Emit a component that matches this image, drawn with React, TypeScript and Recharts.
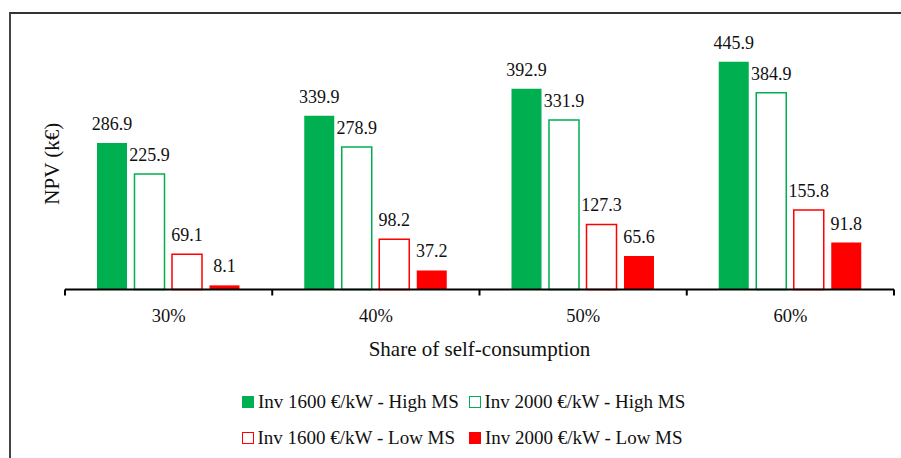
import React from 'react';
import { BarChart, Bar, XAxis, YAxis, LabelList, Legend } from 'recharts';

const categories = ['30%', '40%', '50%', '60%'];
const inv1600High = [286.9, 339.9, 392.9, 445.9];
const inv2000High = [225.9, 278.9, 331.9, 384.9];
const inv1600Low = [69.1, 98.2, 127.3, 155.8];
const inv2000Low = [8.1, 37.2, 65.6, 91.8];
const seriesNames = [
  'Inv 1600 €/kW - High MS',
  'Inv 2000 €/kW - High MS',
  'Inv 1600 €/kW - Low MS',
  'Inv 2000 €/kW - Low MS',
];

const data = categories.map((c, i) => ({
  cat: c,
  s1: inv1600High[i],
  s2: inv2000High[i],
  s3: inv1600Low[i],
  s4: inv2000Low[i],
}));

const GREEN = '#00B050';
const RED = '#FF0000';
const FONT = '"Liberation Serif", "Times New Roman", serif';

const series = [
  { key: 's1', fill: GREEN, stroke: 'none', name: seriesNames[0] },
  { key: 's2', fill: '#ffffff', stroke: GREEN, name: seriesNames[1] },
  { key: 's3', fill: '#ffffff', stroke: RED, name: seriesNames[2] },
  { key: 's4', fill: RED, stroke: 'none', name: seriesNames[3] },
];

const W = 901;
const H = 458;
const MARGIN = { top: 34, right: 7, bottom: 138.5, left: 38 };
const YAXIS_W = 27;
const PLOT_W = W - MARGIN.left - YAXIS_W - MARGIN.right;
const BAND = PLOT_W / categories.length;

const CustomTick = (props: any) => {
  const { x, y, payload, index } = props;
  const axisY = y - 8;
  const half = BAND / 2;
  return (
    <g>
      <line x1={x - half} x2={x - half} y1={axisY} y2={axisY + 6} stroke="#000" strokeWidth={2} />
      {index === categories.length - 1 && (
        <line x1={x + half} x2={x + half} y1={axisY} y2={axisY + 6} stroke="#000" strokeWidth={2} />
      )}
      <text x={x} y={axisY + 32} textAnchor="middle" fontFamily={FONT} fontSize={18.5} fill="#111">
        {payload.value}
      </text>
    </g>
  );
};

const LegendContent = () => {
  const cols = [242, 469];
  const rows = [402, 438];
  return (
    <div style={{ position: 'relative', width: W, height: H }}>
      {series.map((s, i) => {
        const left = cols[i % 2];
        const top = rows[Math.floor(i / 2)];
        return (
          <div
            key={s.key}
            style={{
              position: 'absolute',
              left,
              top: top - 12,
              height: 24,
              display: 'flex',
              alignItems: 'center',
              whiteSpace: 'nowrap',
              fontFamily: FONT,
              fontSize: 19,
              color: '#111',
            }}
          >
            <span
              style={{
                display: 'inline-block',
                width: s.stroke === 'none' ? 12 : 9.5,
                height: s.stroke === 'none' ? 12 : 9.5,
                background: s.fill,
                border: s.stroke === 'none' ? 'none' : `1.5px solid ${s.stroke}`,
                marginRight: 4,
              }}
            />
            <span>{s.name}</span>
          </div>
        );
      })}
    </div>
  );
};

export default function App() {
  return (
    <div
      style={{
        position: 'fixed',
        left: 0,
        top: 0,
        width: W,
        height: H,
        overflow: 'hidden',
        background: '#fff',
      }}
    >
      <div
        style={{
          position: 'absolute',
          left: 9,
          top: 12,
          width: W,
          height: H,
          borderLeft: '2px solid #444',
          borderTop: '2px solid #333',
        }}
      />
      <div style={{ position: 'absolute', left: 0, top: 0 }}>
        <BarChart
          width={W}
          height={H}
          data={data}
          margin={MARGIN}
          barCategoryGap={32}
          barGap={7.5}
        >
          <YAxis
            domain={[0, 500]}
            width={YAXIS_W}
            tick={false}
            tickLine={false}
            axisLine={false}
            label={{
              value: 'NPV (k€)',
              angle: -90,
              position: 'center',
              fontFamily: FONT,
              fontSize: 21,
              fill: '#111',
              dy: 2,
            }}
          />
          <XAxis
            dataKey="cat"
            height={30}
            interval={0}
            axisLine={{ stroke: '#000', strokeWidth: 2 }}
            tickLine={false}
            tick={<CustomTick />}
            label={{
              value: 'Share of self-consumption',
              position: 'insideBottom',
              offset: -36,
              fontFamily: FONT,
              fontSize: 21,
              fill: '#111',
            }}
          />
          <Legend
            layout="horizontal"
            verticalAlign="middle"
            align="center"
            wrapperStyle={{ left: 0, top: 0, width: W, height: H, pointerEvents: 'none' }}
            content={<LegendContent />}
          />
          {series.map((s) => (
            <Bar
              key={s.key}
              dataKey={s.key}
              name={s.name}
              fill={s.fill}
              stroke={s.stroke}
              strokeWidth={s.stroke === 'none' ? 0 : 1.5}
              isAnimationActive={false}
            >
              <LabelList
                dataKey={s.key}
                position="top"
                offset={13}
                fontFamily={FONT}
                fontSize={18}
                fill="#111"
              />
            </Bar>
          ))}
        </BarChart>
      </div>
    </div>
  );
}
